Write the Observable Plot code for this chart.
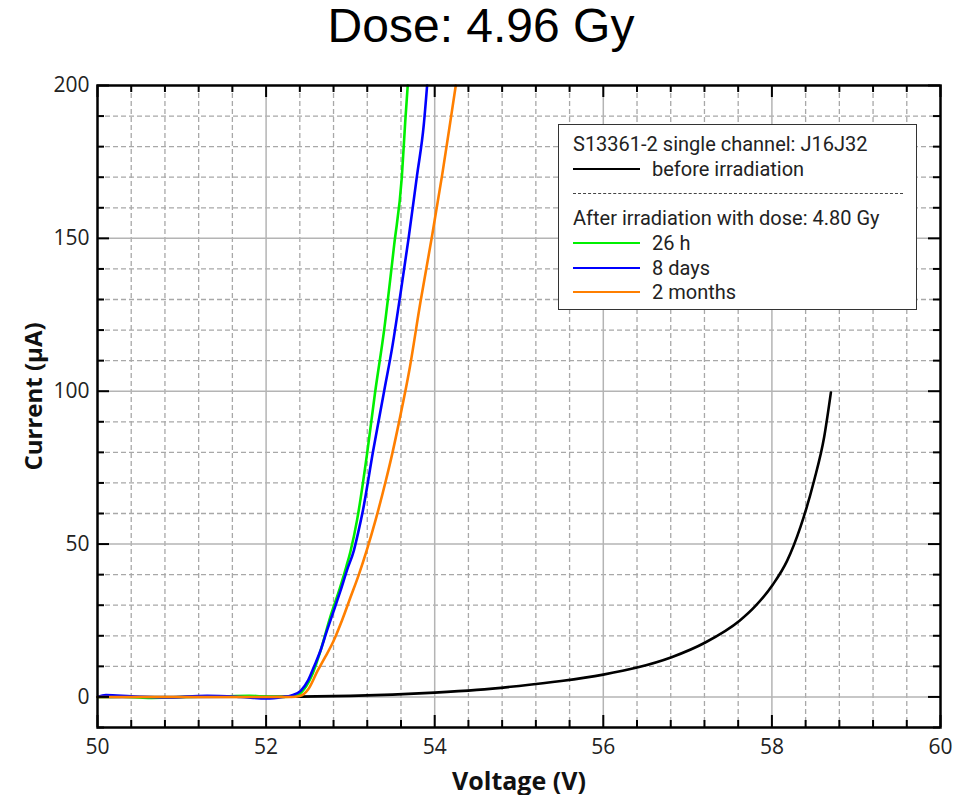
<!DOCTYPE html>
<html>
<head>
<meta charset="utf-8">
<script src="https://cdn.jsdelivr.net/npm/d3@7"></script>
<script src="https://cdn.jsdelivr.net/npm/@observablehq/plot@0.6"></script>
<style>
  html, body { margin: 0; padding: 0; background: white; }
  #wrap { position: relative; width: 962px; height: 795px; overflow: hidden; }
  #title { position: absolute; left: 0; top: 0; width: 962px; text-align: center;
           font-family: "Liberation Sans", Arial, sans-serif; font-size: 48px; line-height: 52px; color: #000; }
  #legend { position: absolute; left: 558px; top: 124px; width: 357px; height: 184px;
            border: 1.5px solid #333; background: white; font-family: Roboto, "Open Sans", sans-serif;
            font-size: 20px; color: #222; }
  #legend .row { position: absolute; left: 0; width: 100%; height: 22px; }
  #legend .sw { position: absolute; left: 14px; width: 67px; height: 0; border-top: 2.5px solid; }
  #legend .lbl { position: absolute; display: block; left: 93px; top: 0; height: 22px; line-height: 22px; white-space: nowrap; }
  #legend .dash { position: absolute; left: 14px; width: 330px; height: 0; border-top: 1.5px dashed #444; }
</style>
</head>
<body>
<div id="wrap">
  <div id="title"></div>
  <div id="chart"></div>
  <div id="legend"></div>
</div>
<script>
const titleText = "Dose: 4.96 Gy";
const xLabel = "Voltage (V)";
const yLabel = "Current (µA)";
const legendHeader1 = "S13361-2 single channel: J16J32";
const legendHeader2 = "After irradiation with dose: 4.80 Gy";

const xMajor = [50, 52, 54, 56, 58, 60];
const xMinor = [50.4, 50.8, 51.2, 51.6, 52.4, 52.8, 53.2, 53.6, 54.4, 54.8, 55.2, 55.6,
                56.4, 56.8, 57.2, 57.6, 58.4, 58.8, 59.2, 59.6];
const yMajor = [0, 50, 100, 150, 200];
const yMinor = [-10, 10, 20, 30, 40, 60, 70, 80, 90, 110, 120, 130, 140, 160, 170, 180, 190];
const xDomain = [50, 60];
const yDomain = [-10, 200];

// before irradiation (black)
const beforeV = [50, 51, 52, 52.4, 53, 53.5, 54, 54.5, 55, 55.5, 56.0, 56.4, 56.81, 57.21, 57.62, 57.8, 58.01, 58.18, 58.34, 58.5, 58.62, 58.7];
const beforeI = [0, 0, 0.05, 0.1, 0.35, 0.75, 1.4, 2.3, 3.6, 5.2, 7.3, 9.6, 13, 17.8, 25, 29.6, 36.7, 44.5, 55.7, 70.7, 85, 99.6];

// 26 h (green)
const h26V = [50, 50.3, 50.6, 51.0, 51.4, 51.8, 52.0, 52.2, 52.35, 52.45, 52.55, 52.65, 52.76, 52.88, 52.95, 53.0, 53.08, 53.2, 53.29, 53.4, 53.52, 53.61, 53.65, 53.68];
const h26I = [0, 0.1, -0.3, 0, 0.1, 0.4, 0.1, 0, 0.3, 2.5, 7.5, 15.5, 26, 36, 42.5, 47.5, 58, 80, 99, 120, 148, 170, 188, 200];

// 8 days (blue)
const d8V = [50, 50.1, 50.4, 50.8, 51.3, 51.7, 52.0, 52.2, 52.3, 52.41, 52.5, 52.57, 52.65, 52.72, 52.8, 52.88, 52.96, 53.04, 53.09, 53.14, 53.27, 53.4, 53.5, 53.6, 53.69, 53.79, 53.87, 53.91];
const d8I = [0, 0.6, 0.2, -0.2, 0.4, 0, -0.5, 0, 0.5, 2, 5.5, 10, 15.5, 21.5, 28, 34.5, 41.5, 47.8, 53.5, 59.8, 80.5, 100, 115, 133, 150, 170.5, 187, 200];

// 2 months (orange)
const m2V = [50, 50.5, 51, 51.5, 52, 52.3, 52.4, 52.5, 52.61, 52.7, 52.8, 52.9, 53.0, 53.1, 53.2, 53.3, 53.42, 53.5, 53.58, 53.7, 53.83, 53.97, 54.09, 54.19, 54.25];
const m2I = [0, 0, 0, 0, 0, 0, 0.3, 2.5, 8.5, 13, 18.3, 25, 32.5, 40, 48.5, 58, 70.7, 80, 90.3, 107, 129, 151, 171, 189, 200];

const seriesNames = ["before irradiation", "26 h", "8 days", "2 months"];
const seriesColors = ["#000000", "#00f000", "#0000ff", "#ff7f00"];
const seriesV = [beforeV, h26V, d8V, m2V];
const seriesI = [beforeI, h26I, d8I, m2I];

const rows = seriesNames.map((name, k) =>
  seriesV[k].map((v, j) => ({series: name, V: v, I: seriesI[k][j]})));

const W = 962, H = 795;
const mTop = 85, mBottom = 68, mLeft = 97, mRight = 22;
const innerH = H - mTop - mBottom, innerW = W - mLeft - mRight;
const majLen = 12, minLen = 7;

const gridMajorX = xMajor.filter(d => d > xDomain[0] && d < xDomain[1]);
const gridMajorY = yMajor.filter(d => d > yDomain[0] && d < yDomain[1]);
const gridMinorY = yMinor.filter(d => d > yDomain[0] && d < yDomain[1]);

const marks = [
  Plot.ruleX(xMinor, {stroke: "#a8a8a8", strokeWidth: 1.3, strokeDasharray: "5,3"}),
  Plot.ruleY(gridMinorY, {stroke: "#a8a8a8", strokeWidth: 1.3, strokeDasharray: "5,3"}),
  Plot.ruleX(gridMajorX, {stroke: "#b4b4b4", strokeWidth: 1.5}),
  Plot.ruleY(gridMajorY, {stroke: "#b4b4b4", strokeWidth: 1.5}),
  ...rows.map((r, k) => Plot.line(r, {x: "V", y: "I", stroke: seriesColors[k], strokeWidth: 2.6, curve: "monotone-x"})),
  // inward ticks: bottom / top
  Plot.ruleX(xMajor, {stroke: "black", strokeWidth: 2, insetTop: innerH - majLen}),
  Plot.ruleX(xMinor, {stroke: "black", strokeWidth: 2, insetTop: innerH - minLen}),
  Plot.ruleX(xMajor, {stroke: "black", strokeWidth: 2, insetBottom: innerH - majLen}),
  Plot.ruleX(xMinor, {stroke: "black", strokeWidth: 2, insetBottom: innerH - minLen}),
  // inward ticks: left / right
  Plot.ruleY(yMajor, {stroke: "black", strokeWidth: 2, insetRight: innerW - majLen}),
  Plot.ruleY(yMinor, {stroke: "black", strokeWidth: 2, insetRight: innerW - minLen}),
  Plot.ruleY(yMajor, {stroke: "black", strokeWidth: 2, insetLeft: innerW - majLen}),
  Plot.ruleY(yMinor, {stroke: "black", strokeWidth: 2, insetLeft: innerW - minLen}),
  Plot.frame({stroke: "black", strokeWidth: 2.5}),
  Plot.axisX({ticks: xMajor, tickSize: 0, tickPadding: 12, fontSize: 21, label: null, fill: "#222"}),
  Plot.axisY({ticks: yMajor, tickSize: 0, tickPadding: 8, fontSize: 21, label: null, fill: "#222"}),
  Plot.text([xLabel], {frameAnchor: "bottom", lineAnchor: "middle", dy: 54, text: d => d, fontWeight: "bold", fontSize: 25, fill: "#111"}),
  Plot.text([yLabel], {frameAnchor: "left", textAnchor: "middle", lineAnchor: "middle", dx: -63, dy: -10, rotate: -90, text: d => d, fontWeight: "bold", fontSize: 24, fill: "#111"})
];

const chart = Plot.plot({
  width: W, height: H,
  marginTop: mTop, marginBottom: mBottom, marginLeft: mLeft, marginRight: mRight,
  x: {domain: xDomain, axis: null},
  y: {domain: yDomain, axis: null},
  style: {fontFamily: "'Open Sans', sans-serif", fontSize: "20px", background: "white", color: "#222"},
  marks
});
document.getElementById("chart").appendChild(chart);

document.getElementById("title").textContent = titleText;

// legend
const legend = document.getElementById("legend");
function addRow(top, html) {
  const r = document.createElement("div");
  r.className = "row";
  r.style.top = top + "px";
  r.innerHTML = html;
  legend.appendChild(r);
}
addRow(8, `<span class="lbl" style="left:14px">${legendHeader1}</span>`);
const rowTops = [32.5, 107, 132, 156];
addRow(rowTops[0], `<span class="sw" style="top:10px;border-color:${seriesColors[0]}"></span><span class="lbl">${seriesNames[0]}</span>`);
addRow(57, `<span class="dash" style="top:11px"></span>`);
addRow(82, `<span class="lbl" style="left:14px">${legendHeader2}</span>`);
for (let k = 1; k < 4; k++) {
  addRow(rowTops[k], `<span class="sw" style="top:10px;border-color:${seriesColors[k]}"></span><span class="lbl">${seriesNames[k]}</span>`);
}
</script>
</body>
</html>
